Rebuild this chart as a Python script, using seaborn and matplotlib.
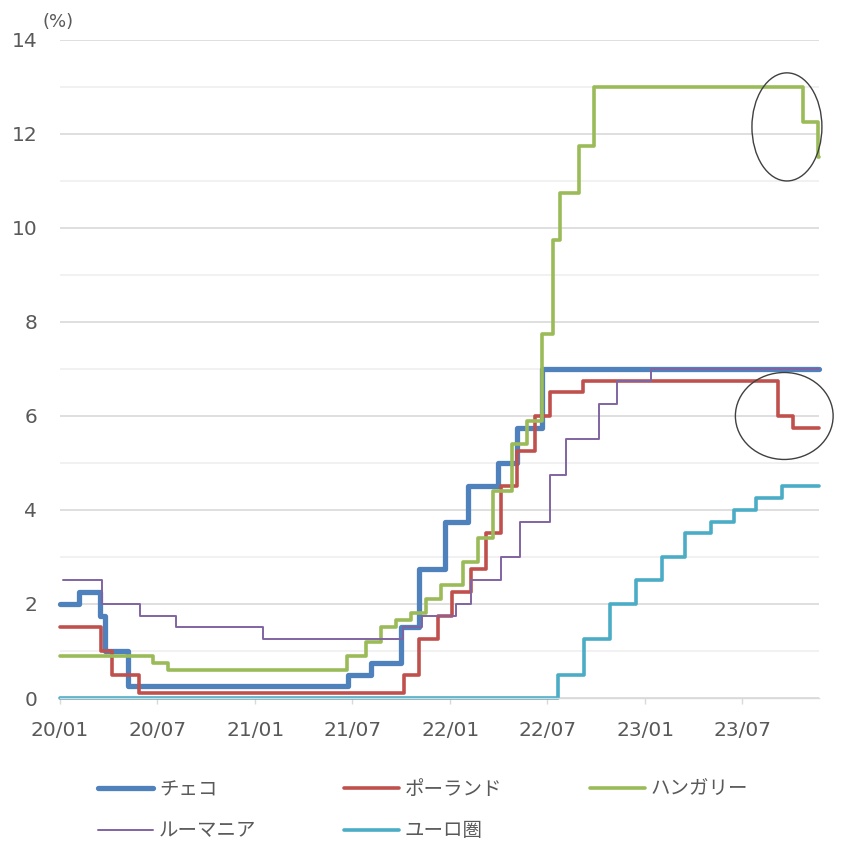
import pandas as pd
import matplotlib
matplotlib.use("Agg")
import matplotlib.pyplot as plt
import matplotlib.dates as mdates
from matplotlib.lines import Line2D
from matplotlib.patches import Ellipse
from matplotlib.ticker import MultipleLocator
import seaborn as sns

# Policy rates (%), listed as decision dates and the rate in force from that date
END_DATE = "2023-11-22"

czech_dates = ["2020-01-01", "2020-02-06", "2020-03-16", "2020-03-26", "2020-05-07",
               "2021-06-23", "2021-08-05", "2021-09-30", "2021-11-04", "2021-12-22",
               "2022-02-03", "2022-03-31", "2022-05-05", "2022-06-22"]
czech_rates = [2.0, 2.25, 1.75, 1.0, 0.25, 0.5, 0.75, 1.5, 2.75, 3.75, 4.5, 5.0, 5.75, 7.0]

poland_dates = ["2020-01-01", "2020-03-17", "2020-04-08", "2020-05-28", "2021-10-06",
                "2021-11-03", "2021-12-08", "2022-01-04", "2022-02-08", "2022-03-08",
                "2022-04-06", "2022-05-05", "2022-06-08", "2022-07-07", "2022-09-07",
                "2023-09-06", "2023-10-04"]
poland_rates = [1.5, 1.0, 0.5, 0.1, 0.5, 1.25, 1.75, 2.25, 2.75, 3.5, 4.5, 5.25, 6.0,
                6.5, 6.75, 6.0, 5.75]

hungary_dates = ["2020-01-01", "2020-06-23", "2020-07-21", "2021-06-22", "2021-07-27",
                 "2021-08-24", "2021-09-21", "2021-10-19", "2021-11-16", "2021-12-14",
                 "2022-01-25", "2022-02-22", "2022-03-22", "2022-04-26", "2022-05-24",
                 "2022-06-21", "2022-07-12", "2022-07-26", "2022-08-30", "2022-09-27",
                 "2023-10-24", "2023-11-21"]
hungary_rates = [0.9, 0.75, 0.6, 0.9, 1.2, 1.5, 1.65, 1.8, 2.1, 2.4, 2.9, 3.4, 4.4, 5.4,
                 5.9, 7.75, 9.75, 10.75, 11.75, 13.0, 12.25, 11.5]

romania_dates = ["2020-01-06", "2020-03-20", "2020-05-29", "2020-08-05", "2021-01-15",
                 "2021-10-05", "2021-11-09", "2022-01-11", "2022-02-08", "2022-04-06",
                 "2022-05-11", "2022-07-06", "2022-08-05", "2022-10-06", "2022-11-09",
                 "2023-01-11"]
romania_rates = [2.5, 2.0, 1.75, 1.5, 1.25, 1.5, 1.75, 2.0, 2.5, 3.0, 3.75, 4.75, 5.5,
                 6.25, 6.75, 7.0]

euro_dates = ["2020-01-01", "2022-07-21", "2022-09-08", "2022-10-27", "2022-12-15",
              "2023-02-02", "2023-03-16", "2023-05-04", "2023-06-15", "2023-07-27",
              "2023-09-14"]
euro_rates = [0.0, 0.5, 1.25, 2.0, 2.5, 3.0, 3.5, 3.75, 4.0, 4.25, 4.5]

names = ["チェコ", "ポーランド", "ハンガリー", "ルーマニア", "ユーロ圏"]
colors = ["#4F81BD", "#C0504D", "#9BBB59", "#8064A2", "#4BACC6"]
widths = [3.8, 2.6, 2.6, 1.4, 2.6]

sns.set_theme(style="white")
plt.rcParams["font.family"] = ["DejaVu Sans", "Noto Sans CJK JP"]
TEXT = "#595959"

frames = []
for name, dates, rates in zip(
        names,
        [czech_dates, poland_dates, hungary_dates, romania_dates, euro_dates],
        [czech_rates, poland_rates, hungary_rates, romania_rates, euro_rates]):
    frames.append(pd.DataFrame({
        "date": pd.to_datetime(list(dates) + [END_DATE]),
        "rate": list(rates) + [rates[-1]],
        "country": name,
    }))
df = pd.concat(frames, ignore_index=True)

palette = dict(zip(names, colors))
sizes = dict(zip(names, widths))

fig = plt.figure(figsize=(8.45, 8.43), dpi=100)
ax = fig.add_axes([0.0710, 0.1720, 0.8982, 0.7806])

sns.lineplot(data=df, x="date", y="rate", hue="country", size="country",
             hue_order=names, size_order=names, palette=palette, sizes=sizes,
             drawstyle="steps-post", estimator=None, sort=False, legend=False, ax=ax)
for line in ax.get_lines():
    line.set_clip_on(False)

ax.set_xlim(pd.Timestamp("2020-01-01"), pd.Timestamp(END_DATE))
ax.set_ylim(0, 14)
ax.yaxis.set_major_locator(MultipleLocator(2))
ax.yaxis.set_minor_locator(MultipleLocator(1))
ax.grid(axis="y", which="major", color="#d9d9d9", lw=1.2)
ax.grid(axis="y", which="minor", color="#efefef", lw=1.2)
ax.set_axisbelow(True)

ax.xaxis.set_major_locator(mdates.MonthLocator(bymonth=[1, 7]))
ax.xaxis.set_major_formatter(mdates.DateFormatter("%y/%m"))
ax.tick_params(axis="x", which="major", direction="out", length=4.5, width=1,
               color="#d9d9d9", pad=12, labelsize=14.5, labelcolor=TEXT, bottom=True)
ax.tick_params(axis="y", which="both", left=False, length=0, pad=16.5,
               labelsize=14.5, labelcolor=TEXT)
for side in ["top", "right", "left"]:
    ax.spines[side].set_visible(False)
ax.spines["bottom"].set_color("#d9d9d9")
ax.spines["bottom"].set_linewidth(1)
ax.set_xlabel("")
ax.set_ylabel("")

fig.text(58 / 845, 1 - 22 / 843, "(%)", ha="center", va="center",
         fontsize=13, color=TEXT)

# Highlight the recent rate cuts
ax.add_patch(Ellipse((mdates.date2num(pd.Timestamp("2023-09-23")), 12.15), 131, 2.30,
                     fill=False, edgecolor="#404040", lw=1.0, clip_on=False, zorder=5))
ax.add_patch(Ellipse((mdates.date2num(pd.Timestamp("2023-09-18")), 6.0), 183, 1.85,
                     fill=False, edgecolor="#404040", lw=1.0, clip_on=False, zorder=5))

# Legend laid out row by row: 3 columns, filled column-wise
order = ["チェコ", "ルーマニア", "ポーランド", "ユーロ圏", "ハンガリー"]
handles = [Line2D([], [], color=palette[n], lw=sizes[n], solid_capstyle="round")
           for n in order]
fig.legend(handles, order, loc="upper left", bbox_to_anchor=(98 / 845, 1 - 779 / 843),
           ncol=3, frameon=False, handlelength=2.85, handletextpad=0.28,
           columnspacing=4.5, labelspacing=1.05, borderpad=0, borderaxespad=0,
           labelcolor=TEXT, prop={"family": ["Noto Sans CJK JP"], "size": 14})

fig.savefig("out.png", dpi=100)
